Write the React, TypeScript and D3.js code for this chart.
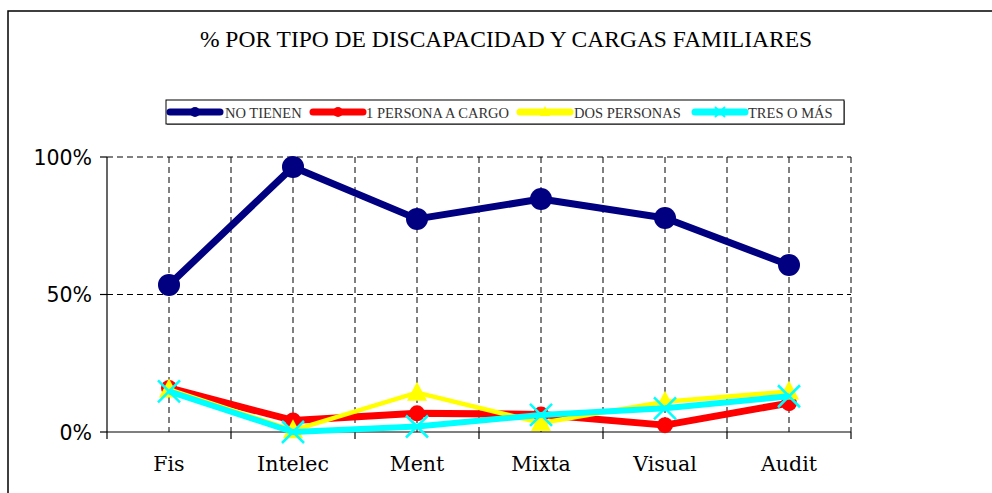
import React from "react";
import * as d3 from "d3";

const categories = ["Fis", "Intelec", "Ment", "Mixta", "Visual", "Audit"];
const noTienen = [53.5, 96.4, 77.5, 84.7, 77.8, 60.7];
const unaPersona = [16, 4.2, 6.8, 6.4, 2.5, 10.5];
const dosPersonas = [15.5, 0.6, 14.3, 3.3, 11, 14.7];
const tresOMas = [14.8, 0, 2, 6.2, 8.6, 13];
const yTicks = [0, 50, 100];
const seriesNames = ["NO TIENEN", "1 PERSONA A CARGO", "DOS PERSONAS", "TRES O MÁS"];
const title = "% POR TIPO DE DISCAPACIDAD Y CARGAS FAMILIARES";

const W = 992, H = 493;
const plot = { left: 107, right: 851, top: 157, bottom: 432 };

const series = [
  { name: seriesNames[0], values: noTienen, color: "#000080", width: 7, marker: "circle", size: 11 },
  { name: seriesNames[1], values: unaPersona, color: "#ff0000", width: 7, marker: "circle", size: 8 },
  { name: seriesNames[2], values: dosPersonas, color: "#ffff00", width: 4.5, marker: "triangle", size: 10 },
  { name: seriesNames[3], values: tresOMas, color: "#00ffff", width: 6, marker: "x", size: 11 },
];

function Marker({ type, x, y, size, color }: any) {
  if (type === "circle") return <circle cx={x} cy={y} r={size} fill={color} />;
  if (type === "triangle") {
    const s = size;
    return <path d={`M${x},${y - s * 1.1} L${x + s},${y + s * 0.8} L${x - s},${y + s * 0.8} Z`} fill={color} />;
  }
  const s = size;
  return (
    <path d={`M${x - s},${y - s} L${x + s},${y + s} M${x - s},${y + s} L${x + s},${y - s}`} stroke={color} strokeWidth={2.5} fill="none" />
  );
}

export default function App() {
  const x = d3.scaleBand().domain(categories).range([plot.left, plot.right]);
  const y = d3.scaleLinear().domain([0, 100]).range([plot.bottom, plot.top]);
  const bw = x.bandwidth();
  const line = d3.line<number>().x((_, i) => x(categories[i])! + bw / 2).y((d) => y(d));

  const gridX: number[] = [];
  categories.forEach((c) => {
    gridX.push(x(c)! + bw / 2);
    gridX.push(x(c)! + bw);
  });

  const legendItems = [
    { lineX: 170, textX: 225 },
    { lineX: 313, textX: 366 },
    { lineX: 520, textX: 574 },
    { lineX: 695, textX: 748 },
  ];

  return (
    <svg width={W} height={H} style={{ position: "absolute", left: 0, top: 0, background: "#fff" }}>
      <path d={`M8,${H} L8,11 L${W},11`} stroke="#000" strokeWidth={1.5} fill="none" />
      <text x={506} y={47} textAnchor="middle" fontFamily="'Liberation Serif', serif" fontSize={23.5} fill="#000">
        {title}
      </text>

      {/* legend */}
      <rect x={167} y={101} width={678} height={24} fill="#888" />
      <rect x={166} y={100} width={678} height={24} fill="#fff" stroke="#000" strokeWidth={1} />
      {series.map((s, i) => {
        const it = legendItems[i];
        const lx1 = it.lineX, lx2 = it.lineX + 50, cx = (lx1 + lx2) / 2, cy = 112;
        return (
          <g key={s.name}>
            <line x1={lx1} x2={lx2} y1={cy} y2={cy} stroke={s.color} strokeWidth={7} strokeLinecap="round" />
            {s.marker === "circle" && <circle cx={cx} cy={cy} r={5} fill={s.color} />}
            {s.marker === "triangle" && <path d={`M${cx},${cy - 6} L${cx + 5},${cy + 4} L${cx - 5},${cy + 4} Z`} fill={s.color} />}
            {s.marker === "x" && <path d={`M${cx - 5},${cy - 5} L${cx + 5},${cy + 5} M${cx - 5},${cy + 5} L${cx + 5},${cy - 5}`} stroke={s.color} strokeWidth={2} />}
            <text x={it.textX} y={118} fontFamily="'Liberation Serif', serif" fontSize={14.5} fill="#333">
              {s.name}
            </text>
          </g>
        );
      })}

      {/* grid */}
      {gridX.map((gx, i) => (
        <line key={"gx" + i} x1={gx} x2={gx} y1={plot.top} y2={plot.bottom} stroke="#000" strokeWidth={1} strokeDasharray="6,4" />
      ))}
      {yTicks.filter((t) => t > 0).map((t) => (
        <line key={"gy" + t} x1={plot.left} x2={plot.right} y1={y(t)} y2={y(t)} stroke="#000" strokeWidth={1} strokeDasharray="6,4" />
      ))}

      {/* axes */}
      <line x1={plot.left} x2={plot.left} y1={plot.top} y2={plot.bottom} stroke="#000" strokeWidth={1.2} />
      <line x1={plot.left} x2={plot.right} y1={plot.bottom} y2={plot.bottom} stroke="#000" strokeWidth={1.2} />
      {yTicks.map((t) => (
        <g key={"yt" + t}>
          <line x1={plot.left - 7} x2={plot.left} y1={y(t)} y2={y(t)} stroke="#000" strokeWidth={1.2} />
          <text x={92} y={y(t) + 7.5} textAnchor="end" fontFamily="'DejaVu Sans', sans-serif" fontSize={20.5} fill="#000">
            {t}%
          </text>
        </g>
      ))}
      {[plot.left, ...categories.map((c) => x(c)! + bw)].map((tx, i) => (
        <line key={"xt" + i} x1={tx} x2={tx} y1={plot.bottom} y2={plot.bottom + 7} stroke="#000" strokeWidth={1.2} />
      ))}
      {categories.map((c) => (
        <text key={"xl" + c} x={x(c)! + bw / 2} y={471} textAnchor="middle" fontFamily="'DejaVu Serif', serif" fontSize={20.5} fill="#000">
          {c}
        </text>
      ))}

      {/* series */}
      {series.map((s) => (
        <g key={"s" + s.name}>
          <path d={line(s.values)!} fill="none" stroke={s.color} strokeWidth={s.width} strokeLinejoin="round" />
          {s.values.map((v, i) => (
            <Marker key={i} type={s.marker} x={x(categories[i])! + bw / 2} y={y(v)} size={s.size} color={s.color} />
          ))}
        </g>
      ))}
    </svg>
  );
}
